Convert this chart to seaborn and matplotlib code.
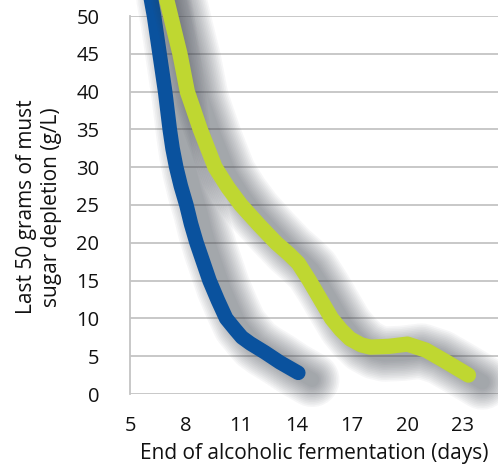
import numpy as np
import pandas as pd
import seaborn as sns
import matplotlib.pyplot as plt
import matplotlib.patheffects as pe

# values
blue_days = [6.0, 6.3, 6.6, 6.9, 7.15, 7.3, 7.5, 7.75, 8.05, 8.3, 8.6, 8.95, 9.3,
             9.75, 10.2, 10.7, 11.05, 11.5, 12.3, 13.1, 14.1]
blue_sugar = [54, 50, 45, 40, 35, 32.5, 30, 27.5, 25, 22.5, 20, 17.5, 15,
              12.4, 10, 8.5, 7.5, 6.7, 5.5, 4.2, 2.8]
green_days = [6.9, 7.2, 7.7, 8.1, 8.8, 9.6, 10.3, 11.0, 12.0, 12.9, 13.6, 14.1, 14.7,
              15.3, 15.9, 16.4, 16.9, 17.5, 18.0, 19.0, 20.0, 21.0, 22.0, 23.3]
green_sugar = [53, 50, 45, 40, 35, 30, 27.3, 25, 22.3, 20, 18.5, 17.3, 15,
               12.5, 10, 8.5, 7.3, 6.5, 6.2, 6.3, 6.6, 5.8, 4.4, 2.5]
x_ticks = [5, 8, 11, 14, 17, 20, 23]
y_ticks = [0, 5, 10, 15, 20, 25, 30, 35, 40, 45, 50]

BLUE = '#0a529e'
GREEN = '#bfd731'


def shadow_effects(lw):
    """Soft grey shadow built from stacked wide strokes"""
    effects = []
    for k in range(13):
        effects.append(pe.Stroke(offset=(10, -5), linewidth=lw + 2.4 * k,
                                 foreground='#3a3f4a', alpha=0.045))
    effects.append(pe.Normal())
    return effects


def main():
    sns.set_style('white')
    plt.rcParams['font.family'] = ['Open Sans', 'DejaVu Sans']

    fig = plt.figure(figsize=(4.98, 4.65), dpi=100)
    ax = fig.add_axes([130 / 498, 1 - 394 / 465, 1 - 130 / 498, (394 - 16) / 465])

    blue = pd.DataFrame({'day': blue_days, 'sugar': blue_sugar})
    green = pd.DataFrame({'day': green_days, 'sugar': green_sugar})

    for df, color, lw in [(blue, BLUE, 10.5), (green, GREEN, 11)]:
        sns.lineplot(data=df, x='day', y='sugar', ax=ax, color=color, linewidth=lw,
                     sort=False, clip_on=False, solid_capstyle='round',
                     solid_joinstyle='round', path_effects=shadow_effects(lw), zorder=3)

    ax.set_xlim(5, 24.9)
    ax.set_ylim(0, 50)
    ax.set_xticks(x_ticks)
    ax.set_yticks(y_ticks)
    ax.yaxis.grid(True, color='#c4c4c4', linewidth=1.3)
    ax.set_axisbelow(True)
    for s in ['top', 'right', 'bottom']:
        ax.spines[s].set_visible(False)
    ax.spines['left'].set_color('#c4c4c4')
    ax.spines['left'].set_linewidth(1.3)
    ax.tick_params(axis='both', length=0, labelsize=14.5, colors='#111111')
    ax.tick_params(axis='y', pad=22)
    ax.tick_params(axis='x', pad=16)
    ax.set_xlabel('End of alcoholic fermentation (days)', fontsize=15, labelpad=5,
                  color='#111111')
    ax.set_ylabel('')

    fig.text(39 / 498, 1 - 207 / 465, 'Last 50 grams of must\nsugar depletion (g/L)',
             rotation=90, ha='center', va='center', multialignment='center',
             fontsize=15, color='#111111', linespacing=1.3)

    fig.savefig('out.png', dpi=100)
    plt.close()


if __name__ == '__main__':
    main()
